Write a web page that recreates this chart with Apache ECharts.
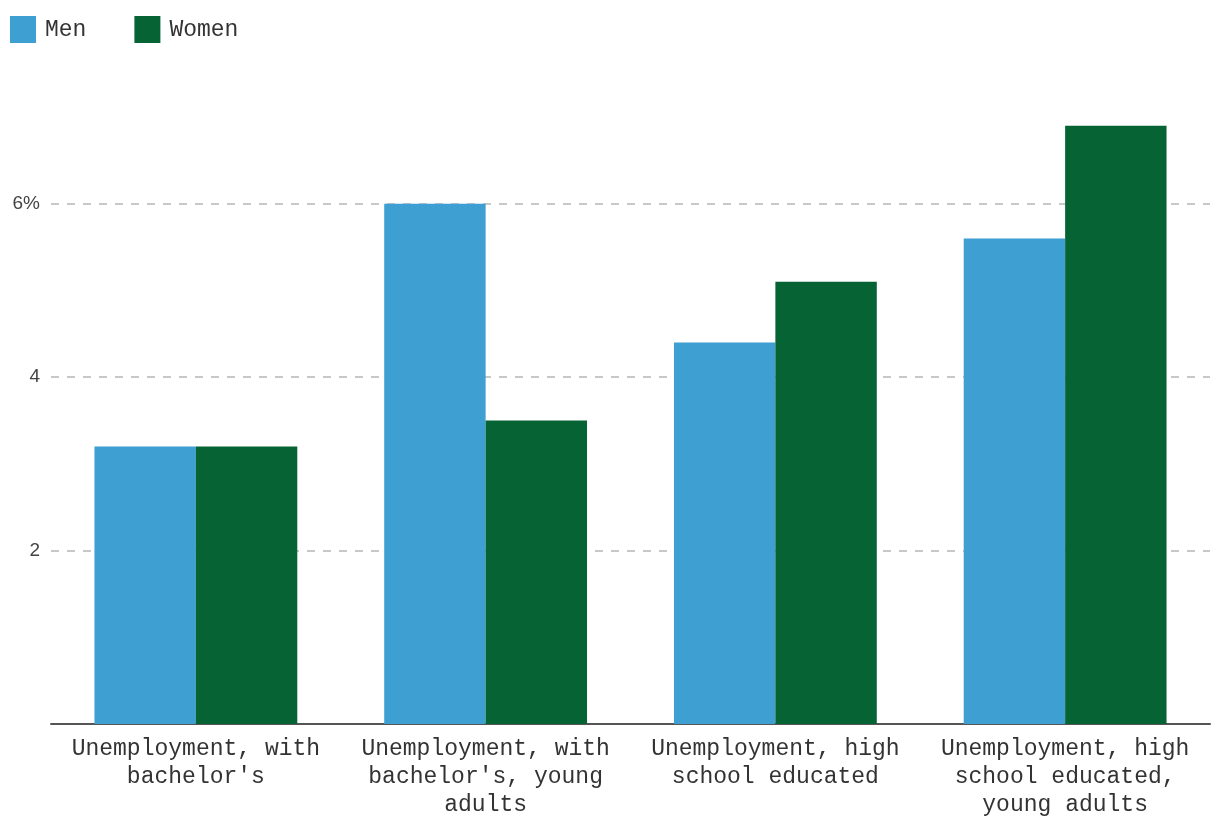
<!DOCTYPE html>
<html>
<head>
<meta charset="utf-8">
<script src="https://cdn.jsdelivr.net/npm/echarts@6/dist/echarts.min.js"></script>
<style>html,body{margin:0;padding:0;background:#fff}#c{width:1220px;height:836px}</style>
</head>
<body>
<div id="c"></div>
<script>
const categories = [
  "Unemployment, with bachelor's",
  "Unemployment, with bachelor's, young adults",
  "Unemployment, high school educated",
  "Unemployment, high school educated, young adults"
];
const seriesNames = ["Men", "Women"];
const menValues = [3.2, 6.0, 4.4, 5.6];
const womenValues = [3.2, 3.5, 5.1, 6.9];

function wrapWords(text, maxChars) {
  const words = text.split(' ');
  const lines = [];
  let cur = '';
  for (const w of words) {
    const trial = cur ? cur + ' ' + w : w;
    if (trial.length > maxChars && cur) { lines.push(cur); cur = w; }
    else cur = trial;
  }
  if (cur) lines.push(cur);
  return lines.join('\n');
}

const chart = echarts.init(document.getElementById('c'));
chart.setOption({
  animation: false,
  backgroundColor: '#fff',
  legend: {
    left: 10, top: 16, padding: 0,
    itemWidth: 26, itemHeight: 27, itemGap: 48,
    icon: 'rect',
    textStyle: { fontFamily: 'Liberation Mono', fontSize: 23, color: '#333', padding: [0,0,0,4] },
    data: seriesNames
  },
  grid: { left: 51, right: 10, top: 117, bottom: 112, containLabel: false },
  xAxis: {
    type: 'category',
    data: categories,
    axisLine: { lineStyle: { color: '#555', width: 2 } },
    axisTick: { show: false },
    axisLabel: {
      interval: 0, margin: 11,
      formatter: v => wrapWords(v, 19),
      fontFamily: 'Liberation Mono', fontSize: 23, lineHeight: 28, color: '#333', align: 'center'
    }
  },
  yAxis: {
    type: 'value',
    min: 0, max: 7, interval: 2,
    axisLine: { show: false },
    axisTick: { show: false },
    axisLabel: {
      showMinLabel: false, showMaxLabel: false, margin: 11,
      fontFamily: 'Liberation Sans', fontSize: 19, color: '#444',
      formatter: v => v === 6 ? '6%' : String(v)
    },
    splitLine: { showMinLine: false, showMaxLine: false, lineStyle: { color: '#c8c8c8', type: [8, 8], width: 2 } }
  },
  series: [
    { name: seriesNames[0], type: 'bar', data: menValues, barGap: '0%', barCategoryGap: '30%', itemStyle: { color: '#3d9fd2' } },
    { name: seriesNames[1], type: 'bar', data: womenValues, barGap: '0%', barCategoryGap: '30%', itemStyle: { color: '#066334' } }
  ]
});
</script>
</body>
</html>
